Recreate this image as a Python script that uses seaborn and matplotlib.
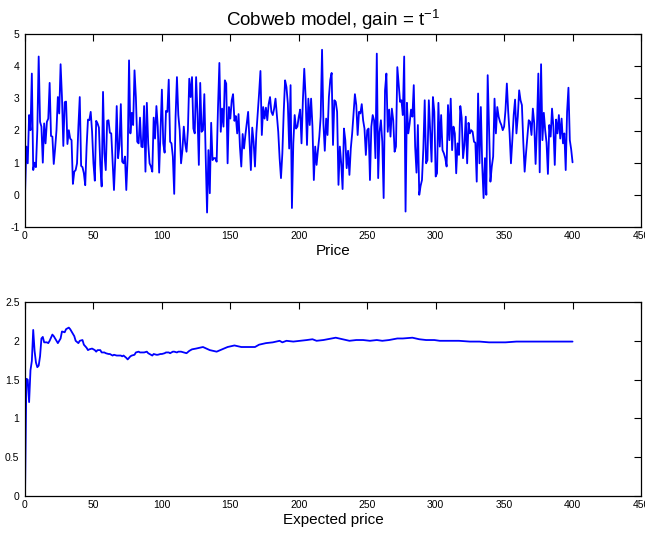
import numpy as np
import pandas as pd
import matplotlib
matplotlib.use('Agg')
import matplotlib.pyplot as plt
from matplotlib.ticker import FuncFormatter
import seaborn as sns

# price path, t = 0..400
price = [
    0.00, 1.50, 0.98, 2.48, 2.01, 3.77, 0.77, 1.00, 0.86, 2.01,
    4.30, 2.27, 2.12, 1.00, 2.22, 1.60, 2.27, 2.37, 3.48, 1.83,
    1.81, 0.96, 1.44, 2.01, 3.04, 2.53, 4.06, 3.04, 1.52, 2.88,
    2.90, 1.58, 2.01, 1.75, 1.70, 0.34, 0.72, 0.77, 0.98, 2.12,
    3.04, 0.90, 0.86, 0.67, 0.30, 1.50, 2.34, 2.32, 2.58, 1.96,
    0.98, 0.44, 2.30, 2.22, 2.09, 0.93, 0.26, 3.20, 1.29, 0.77,
    2.30, 2.32, 1.93, 1.91, 1.03, 0.15, 1.19, 2.76, 1.14, 1.55,
    2.82, 1.03, 0.98, 1.19, 0.15, 1.19, 4.18, 1.91, 2.55, 2.17,
    3.87, 3.04, 1.65, 1.60, 2.40, 1.50, 1.48, 2.76, 0.72, 2.86,
    1.60, 0.98, 0.88, 0.72, 2.40, 1.75, 2.76, 2.12, 0.69, 2.01,
    3.27, 1.60,
    1.31, 2.61, 2.58, 3.58, 1.65, 1.60, 1.19, 0.03, 2.43, 3.66,
    2.48, 2.01, 0.98, 1.39, 2.12, 1.60, 1.34, 2.01, 3.61, 3.04,
    3.66, 2.06, 1.91, 3.66, 2.53, 0.93, 3.48, 1.96, 2.01, 3.13,
    1.19, -0.55, 1.39, 0.05, 2.24, 1.08, 1.14, 1.14, 1.03,
    2.73, 4.10, 1.96, 2.68, 2.12, 3.56, 3.46, 0.98, 2.73, 2.37,
    2.94, 3.13, 2.30, 2.45, 1.91, 2.51, 1.50, 0.88, 1.89, 1.44,
    1.86, 2.22, 2.58, 1.65, 0.77, 2.09, 1.65, 0.88, 1.91, 2.53,
    3.15, 3.85, 1.86, 2.73, 2.37, 2.71, 2.32, 2.82, 3.04,
    2.58, 2.48, 2.68, 2.99, 2.48, 1.96, 1.14, 0.52, 1.29,
    2.58, 3.56, 3.35, 2.84, 1.44, 3.41, -0.41, 1.60, 2.48, 2.06,
    2.12, 2.43,
    2.65, 1.60, 2.94, 3.92, 3.04, 1.55, 2.99, 2.17, 2.99, 2.12,
    0.46, 1.50, 0.93, 1.39, 1.81, 2.43, 4.51, 2.22, 1.37, 2.37,
    1.86, 3.04, 3.58, 3.79, 1.55, 2.94, 2.89, 2.58, 0.31,
    1.50, 0.98, 0.18, 2.06, 1.70, 0.83, 1.37, 0.62, 1.44, 1.91,
    2.53, 3.13, 2.79, 1.86, 2.58, 2.53, 2.82, 2.32, 2.06, 1.24,
    2.01, 2.06, 0.46, 2.12, 2.48, 2.32, 1.14, 4.39, 0.52, 1.96,
    2.32, 1.65, -0.10, 3.25, 3.77, 1.96, 2.65, 1.81, 2.68, 2.32,
    1.34, 1.50, 3.97, 3.41, 2.89, 2.94, 2.48, 4.30, -0.52, 2.86,
    1.91, 2.22, 2.65, 2.43, 3.41, 1.50, 0.69, 2.17, 0.00, 0.28,
    0.46, 1.44, 2.94, 0.98, 1.08, 2.94, 2.01, 1.03, 3.04,
    2.58,
    0.57, 0.67, 2.86, 1.50, 2.48, 1.39, 1.29, 1.14, 0.88,
    2.79, 1.70, 2.99, 1.39, 2.12, 1.91, 0.67, 1.60, 1.24, 2.76,
    2.40, 1.14, 1.55, 2.43, 0.98, 2.24, 1.91, 2.01, 1.96, 1.65,
    1.62, 0.41, 3.15, 0.98, 2.73, 0.93, -0.10, 1.14, 0.00, 3.72,
    2.01, 0.41, 0.88, 1.19, 2.99, 1.91, 2.73, 2.43, 2.27, 2.17,
    2.01, 2.12, 2.63, 3.46, 2.58, 1.91, 0.98, 1.70, 2.48,
    2.96, 1.91, 2.43, 3.25, 2.94, 2.79, 1.65, 0.72,
    1.29, 1.81, 2.32, 2.27, 1.86, 2.68, 2.22, 0.96, 2.12, 3.77,
    0.70, 4.06, 1.70, 2.55, 2.01, 1.62, 0.65, 2.17, 1.81,
    2.68, 2.12, 0.93, 2.34, 1.91, 2.48, 1.75, 2.37, 1.60, 1.91,
    0.77, 2.58, 3.33, 1.70, 1.41, 1.01,
]

# expected price, sampled along t
exp_t = [
    0, 1, 2, 3, 4, 5, 6, 7, 8, 9, 10, 11, 12, 13, 14, 16, 17, 18, 20, 21,
    23, 24, 26, 27, 29, 30, 32, 33, 34, 36, 37, 39, 40, 42, 43, 45, 46, 47, 49, 51,
    52, 53, 55, 56, 58, 59, 61, 62, 64, 65, 67, 68, 70, 71, 72, 74, 75, 77, 78, 80,
    81, 83, 84, 86, 87, 89, 90, 92, 93, 94, 96, 97, 99, 100, 102, 103, 105, 106, 108, 109,
    111, 112, 114, 116, 118, 120, 122, 125, 130, 135, 140, 144, 148, 153, 158, 163, 168, 171, 176, 181,
    186, 188, 191, 196, 201, 206, 210, 213, 218, 221, 227, 232, 237, 242, 247, 252, 257, 261, 266, 272,
    276, 283, 288, 293, 299, 303, 310, 317, 325, 332, 339, 344, 351, 359, 366, 373, 381, 388, 395, 400,
]
exp_price = [
    0.00, 1.51, 1.50, 1.21, 1.62, 1.74, 2.14, 1.87, 1.72, 1.66, 1.68, 1.80, 2.03, 2.05, 1.98, 1.98, 1.97, 2.00, 2.08, 2.06,
    2.00, 1.97, 2.03, 2.12, 2.11, 2.15, 2.17, 2.15, 2.12, 2.06, 2.00, 1.97, 2.00, 2.01, 1.95, 1.91, 1.88, 1.89, 1.90, 1.88,
    1.86, 1.88, 1.88, 1.85, 1.85, 1.84, 1.83, 1.83, 1.81, 1.82, 1.81, 1.81, 1.81, 1.80, 1.81, 1.78, 1.76, 1.80, 1.81, 1.82,
    1.85, 1.86, 1.85, 1.85, 1.85, 1.86, 1.84, 1.82, 1.81, 1.83, 1.82, 1.82, 1.83, 1.83, 1.84, 1.85, 1.85, 1.84, 1.86, 1.86,
    1.85, 1.86, 1.86, 1.85, 1.84, 1.87, 1.89, 1.90, 1.92, 1.88, 1.86, 1.89, 1.92, 1.94, 1.92, 1.92, 1.92, 1.95, 1.97, 1.98,
    2.00, 1.98, 2.00, 1.99, 2.00, 2.01, 2.02, 2.00, 2.01, 2.02, 2.04, 2.02, 2.00, 2.01, 2.01, 2.00, 2.01, 2.00, 2.01, 2.03,
    2.03, 2.04, 2.02, 2.01, 2.01, 2.00, 2.00, 2.00, 1.99, 1.99, 1.98, 1.98, 1.98, 1.99, 1.99, 1.99, 1.99, 1.99, 1.99, 1.99,
]

x_ticks = [0, 50, 100, 150, 200, 250, 300, 350, 400, 450]
price_ticks = [-1, 0, 1, 2, 3, 4, 5]
exp_ticks = [0, 0.5, 1, 1.5, 2, 2.5]


def matlab_axes(ax, yticks):
    ax.set_xlim(0, 450)
    ax.set_xticks(x_ticks)
    ax.set_yticks(yticks)
    ax.set_ylim(yticks[0], yticks[-1])
    fmt = FuncFormatter(lambda v, p: f'{v:g}')
    ax.xaxis.set_major_formatter(fmt)
    ax.yaxis.set_major_formatter(fmt)
    ax.tick_params(direction='in', top=True, right=True, length=5, width=0.8,
                   labelsize=7.5, color='black', labelcolor='black', pad=3)
    ax.tick_params(axis='y', pad=4)
    for s in ax.spines.values():
        s.set_visible(True)
        s.set_color('black')
        s.set_linewidth(0.9)
    ax.set_ylabel('')


sns.set_style('white')
plt.rcParams['font.family'] = ['Liberation Sans', 'DejaVu Sans']
plt.rcParams['text.color'] = 'black'
plt.rcParams['axes.labelcolor'] = 'black'
plt.rcParams['mathtext.fontset'] = 'custom'
plt.rcParams['mathtext.rm'] = 'Liberation Sans'
plt.rcParams['mathtext.it'] = 'Liberation Sans:italic'

df_price = pd.DataFrame({'t': np.arange(len(price)), 'price': price})
df_exp = pd.DataFrame({'t': exp_t, 'expected': exp_price})

fig = plt.figure(figsize=(6.45, 5.33), dpi=100)
ax1 = fig.add_axes([25 / 645, (533 - 227) / 533, 616 / 645, (227 - 34) / 533])
ax2 = fig.add_axes([25 / 645, (533 - 496) / 533, 616 / 645, (496 - 302) / 533])

sns.lineplot(data=df_price, x='t', y='price', ax=ax1, color='#0000ff', linewidth=1.3)
matlab_axes(ax1, price_ticks)
ax1.set_xlabel('Price', fontsize=11, labelpad=2, color='black')
ax1.set_title(r'Cobweb model, gain = t$^{\mathrm{-1}}$', fontsize=13.5, pad=6, color='black')

sns.lineplot(data=df_exp, x='t', y='expected', ax=ax2, color='#0000ff', linewidth=1.3)
matlab_axes(ax2, exp_ticks)
ax2.set_xlabel('Expected price', fontsize=11, labelpad=2, color='black')

fig.savefig('out.png', dpi=100)
